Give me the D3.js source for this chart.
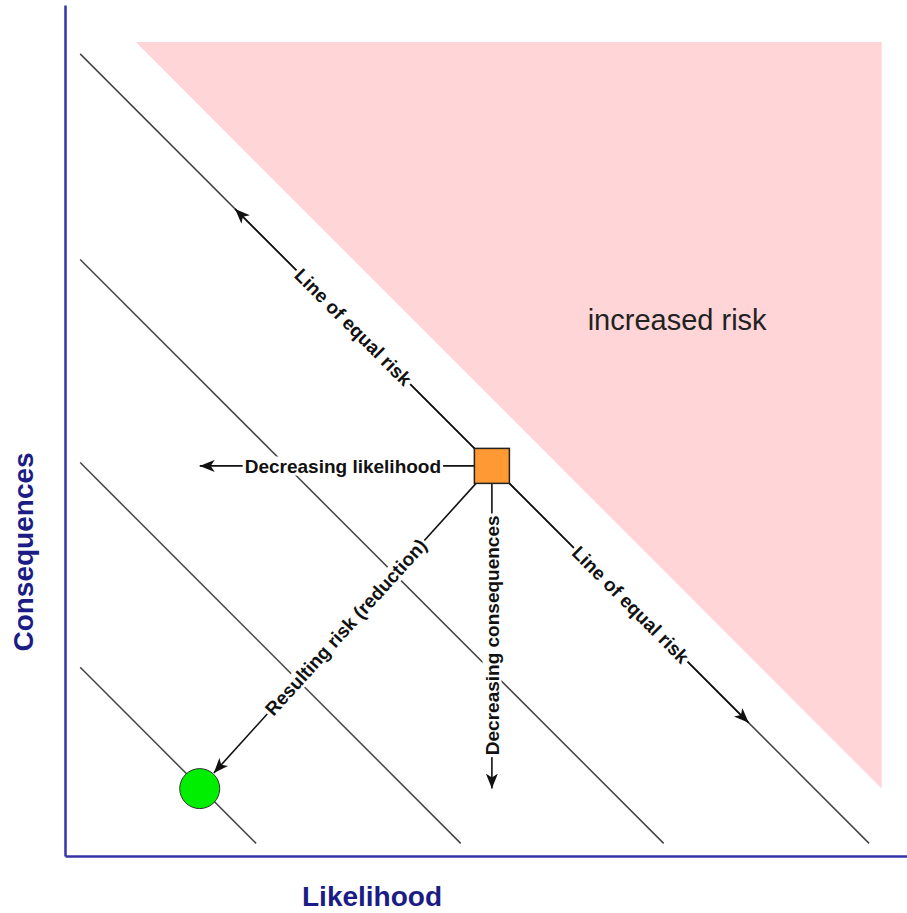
<!DOCTYPE html>
<html>
<head>
<meta charset="utf-8">
<script src="https://cdn.jsdelivr.net/npm/d3@7"></script>
<style>
body { margin: 0; background: #fff; }
svg { display: block; }
text { font-family: "Liberation Sans", Arial, Helvetica, sans-serif; }
</style>
</head>
<body>
<svg width="907" height="913"></svg>
<script>
// lines of equal risk: likelihood + consequences = level
const riskLevels = [97, 72.6, 48.5, 24.2];
const lineStartLikelihood = 1.8;
const lineEndConsequences = 1.5;

// "increased risk" zone
const zoneLevel = 105;
const zoneTop = 96.6;
const zoneRight = 97;

// risk points
const current = { x: 50.7, y: 46.3 };
const reduced = { x: 16.0, y: 8.0 };
const equalRiskReach = 30.5;

const svg = d3.select("svg"),
	width = +svg.attr("width"),
	height = +svg.attr("height");

const x = d3.scaleLinear().domain([0, 100]).range([65, 907]);
const y = d3.scaleLinear().domain([0, 101]).range([856, 5]);

const defs = svg.append("defs");
defs.append("marker")
	.attr("id", "head")
	.attr("viewBox", "-15 -6 16 12")
	.attr("refX", 0)
	.attr("refY", 0)
	.attr("markerWidth", 16)
	.attr("markerHeight", 12)
	.attr("markerUnits", "userSpaceOnUse")
	.attr("orient", "auto")
	.append("path")
	.attr("d", "M0,0L-15,-6L-11,0L-15,6Z")
	.attr("fill", "#111");

// pink zone
const zone = [
	[zoneLevel - zoneTop, zoneTop],
	[zoneRight, zoneTop],
	[zoneRight, zoneLevel - zoneRight]
];
svg.append("path")
	.attr("d", d3.line().x(d => x(d[0])).y(d => y(d[1]))(zone) + "Z")
	.attr("fill", "#ffd5d7");

svg.append("text")
	.attr("x", x(72.7))
	.attr("y", y(62.4))
	.attr("text-anchor", "middle")
	.attr("font-size", "29px")
	.attr("fill", "#222")
	.text("increased risk");

// equal risk lines
svg.append("g")
	.selectAll("line")
	.data(riskLevels)
	.join("line")
	.attr("x1", x(lineStartLikelihood))
	.attr("y1", d => y(d - lineStartLikelihood))
	.attr("x2", d => x(d - lineEndConsequences))
	.attr("y2", y(lineEndConsequences))
	.attr("stroke", "#444")
	.attr("stroke-width", 1.5);

// arrows out of the current risk
const circleR = 20;
const arrows = [
	{ to: { x: current.x - equalRiskReach, y: current.y + equalRiskReach }, label: "Line of equal risk", at: 0.54 },
	{ to: { x: current.x + equalRiskReach, y: current.y - equalRiskReach }, label: "Line of equal risk", at: 0.54 },
	{ to: { x: reduced.x, y: current.y }, label: "Decreasing likelihood", at: 0.51 },
	{ to: { x: current.x, y: reduced.y }, label: "Decreasing consequences", at: 0.525, rotate: -90 },
	{ to: reduced, label: "Resulting risk (reduction)", at: 0.5, trim: circleR + 1 }
];

const cx = x(current.x), cy = y(current.y);
arrows.forEach(a => {
	let tx = x(a.to.x), ty = y(a.to.y);
	const dx = tx - cx, dy = ty - cy, len = Math.hypot(dx, dy);
	if (a.trim) {
		tx -= dx / len * a.trim;
		ty -= dy / len * a.trim;
	}
	svg.append("line")
		.attr("x1", cx).attr("y1", cy)
		.attr("x2", tx).attr("y2", ty)
		.attr("stroke", "#111")
		.attr("stroke-width", 1.6)
		.attr("marker-end", "url(#head)");

	let ang = Math.atan2(dy, dx) * 180 / Math.PI;
	if (ang > 90) ang -= 180;
	if (ang < -90) ang += 180;
	if (a.rotate !== undefined) ang = a.rotate;

	const lg = svg.append("g")
		.attr("transform", `translate(${cx + dx * a.at},${cy + dy * a.at}) rotate(${ang})`);
	const t = lg.append("text")
		.attr("text-anchor", "middle")
		.attr("dy", "0.35em")
		.attr("font-size", "19px")
		.attr("font-weight", "bold")
		.attr("fill", "#111")
		.text(a.label);
	const b = t.node().getBBox();
	lg.insert("rect", "text")
		.attr("x", b.x - 2)
		.attr("y", b.y + 1)
		.attr("width", b.width + 4)
		.attr("height", b.height - 2)
		.attr("fill", "#fff");
});

// current and resulting risk markers
const sq = 35;
svg.append("rect")
	.attr("x", cx - sq / 2)
	.attr("y", cy - sq / 2)
	.attr("width", sq)
	.attr("height", sq)
	.attr("fill", "#ff9933")
	.attr("stroke", "#222")
	.attr("stroke-width", 1.5);

svg.append("circle")
	.attr("cx", x(reduced.x))
	.attr("cy", y(reduced.y))
	.attr("r", circleR)
	.attr("fill", "#00ee00")
	.attr("stroke", "#333")
	.attr("stroke-width", 1);

// axes
function xAxis(g) {
	g.attr("transform", `translate(0,${y(0)})`)
		.call(d3.axisBottom(x).tickValues([]).tickSizeOuter(0));
}
function yAxis(g) {
	g.attr("transform", `translate(${x(0)},0)`)
		.call(d3.axisLeft(y).tickValues([]).tickSizeOuter(0));
}
svg.append("g").call(xAxis);
svg.append("g").call(yAxis);
svg.selectAll(".domain").attr("stroke", "#3535a8").attr("stroke-width", 2.5);

svg.append("text")
	.attr("x", 372)
	.attr("y", 906)
	.attr("text-anchor", "middle")
	.attr("font-size", "28px")
	.attr("font-weight", "bold")
	.attr("fill", "#1c1c86")
	.text("Likelihood");

svg.append("text")
	.attr("transform", "translate(33,552) rotate(-90)")
	.attr("text-anchor", "middle")
	.attr("font-size", "28px")
	.attr("font-weight", "bold")
	.attr("fill", "#1c1c86")
	.text("Consequences");
</script>
</body>
</html>
